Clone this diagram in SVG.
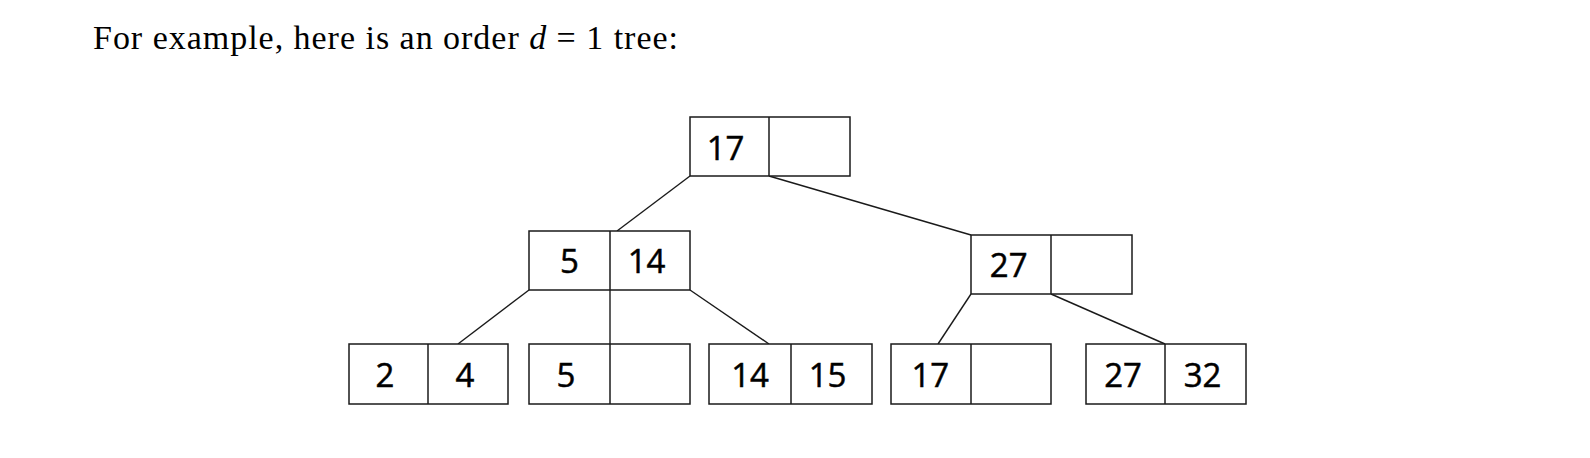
<svg xmlns="http://www.w3.org/2000/svg" width="1590" height="458" viewBox="0 0 1590 458">
<style>
.box{fill:#fff;stroke:#1a1a1a;stroke-width:1.5}
.div{stroke:#1a1a1a;stroke-width:1.5}
.edge{stroke:#1a1a1a;stroke-width:1.4;fill:none}
.num{font-family:"Open Sans","Liberation Sans",sans-serif;font-size:33px;fill:#000;stroke:#000;stroke-width:0.5;text-anchor:middle}
.cap{font-family:"Liberation Serif","DejaVu Serif",serif;font-size:34px;fill:#000}
</style>
<rect width="1590" height="458" fill="#fff"/>
<text class="cap" x="93" y="49.3" textLength="585" lengthAdjust="spacing">For example, here is an order <tspan font-style="italic">d</tspan> = 1 tree:</text>
<g id="connectors">
<line class="edge" x1="690" y1="176" x2="617" y2="231"/>
<line class="edge" x1="769" y1="176" x2="971" y2="235"/>
<line class="edge" x1="529" y1="290" x2="458" y2="344"/>
<line class="edge" x1="610" y1="290" x2="610" y2="344"/>
<line class="edge" x1="690" y1="290" x2="769" y2="344"/>
<line class="edge" x1="971" y1="294" x2="938" y2="344"/>
<line class="edge" x1="1051" y1="294" x2="1165" y2="344"/>
</g>
<g id="root">
<rect class="box" x="690" y="117" width="160" height="59"/>
<line class="div" x1="769" y1="117" x2="769" y2="176"/>
<text class="num" x="725.5" y="159.5">17</text>
</g>
<g id="n5_14">
<rect class="box" x="529" y="231" width="161" height="59"/>
<line class="div" x1="610" y1="231" x2="610" y2="290"/>
<text class="num" x="569.5" y="273">5</text>
<text class="num" x="646.5" y="273">14</text>
</g>
<g id="n27">
<rect class="box" x="971" y="235" width="161" height="59"/>
<line class="div" x1="1051" y1="235" x2="1051" y2="294"/>
<text class="num" x="1008.7" y="276.7">27</text>
</g>
<g id="leaf2_4">
<rect class="box" x="349" y="344" width="159" height="60"/>
<line class="div" x1="428" y1="344" x2="428" y2="404"/>
<text class="num" x="385" y="386.7">2</text>
<text class="num" x="465" y="386.7">4</text>
</g>
<g id="leaf5">
<rect class="box" x="529" y="344" width="161" height="60"/>
<line class="div" x1="610" y1="344" x2="610" y2="404"/>
<text class="num" x="566" y="386.7">5</text>
</g>
<g id="leaf14_15">
<rect class="box" x="709" y="344" width="163" height="60"/>
<line class="div" x1="791" y1="344" x2="791" y2="404"/>
<text class="num" x="750" y="386.7">14</text>
<text class="num" x="827.5" y="386.7">15</text>
</g>
<g id="leaf17">
<rect class="box" x="891" y="344" width="160" height="60"/>
<line class="div" x1="971" y1="344" x2="971" y2="404"/>
<text class="num" x="930.3" y="386.7">17</text>
</g>
<g id="leaf27_32">
<rect class="box" x="1086" y="344" width="160" height="60"/>
<line class="div" x1="1165" y1="344" x2="1165" y2="404"/>
<text class="num" x="1123" y="386.7">27</text>
<text class="num" x="1202.5" y="386.7">32</text>
</g>
</svg>
